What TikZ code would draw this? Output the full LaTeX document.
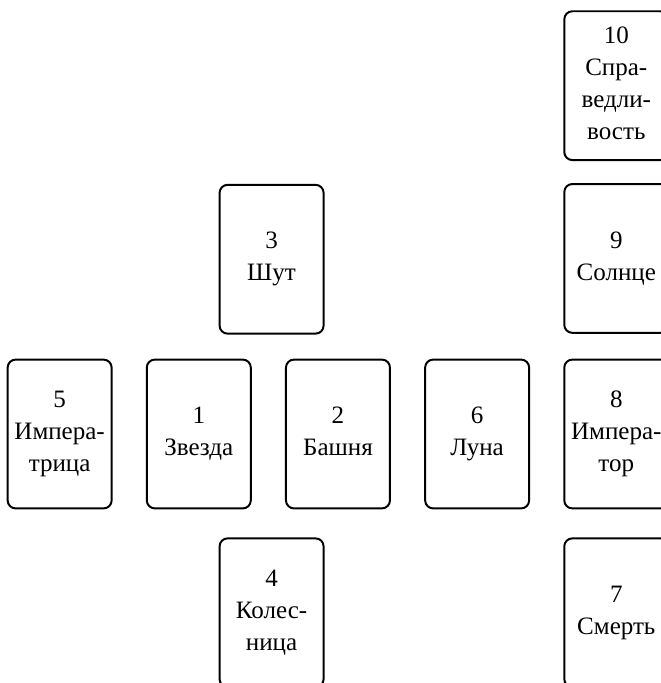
\documentclass[tikz,border=0pt]{standalone}
\usepackage{fontspec}
\setmainfont{Liberation Serif}
\usetikzlibrary{positioning,calc}

\newcommand{\carddepth}{\vphantom{р}}

\begin{document}
\begin{tikzpicture}[
    node distance=0.83cm,
    card/.style={draw, line width=1.4pt, rounded corners=0.2cm, minimum width=2.6cm, minimum height=3.72cm,
                 inner sep=0pt, align=center, font=\fontsize{17.8}{22.7}\selectfont},
]
\useasboundingbox (-4.97,-6.225) rectangle (11.555,10.85);
\clip (-4.97,-6.225) rectangle (11.555,10.85);

% Middle row
\node[card] (c1) {1\\Звезда\carddepth};
\node[card, left=of c1] (c5) {5\\Импера-\\трица\carddepth};
\node[card, right=of c1] (c2) {2\\Башня\carddepth};
\node[card, right=of c2] (c6) {6\\Луна\carddepth};
\node[card, right=of c6] (c8) {8\\Импера-\\тор\carddepth};

% Cross
\node[card, above=0.6cm of $(c1.north)!0.5!(c2.north)$, anchor=south, xshift=0.08cm] (c3) {3\\Шут\carddepth};
\node[card, below=0.7cm of $(c1.south)!0.5!(c2.south)$, anchor=north, xshift=0.08cm] (c4) {4\\Колес-\\ница\carddepth};

% Right column
\node[card, above=0.62cm of c8] (c9) {9\\Солнце\carddepth};
\node[card, above=0.55cm of c9] (c10) {10\\Спра-\\ведли-\\вость\carddepth};
\node[card, below=0.7cm of c8] (c7) {7\\Смерть\carddepth};

\end{tikzpicture}
\end{document}
